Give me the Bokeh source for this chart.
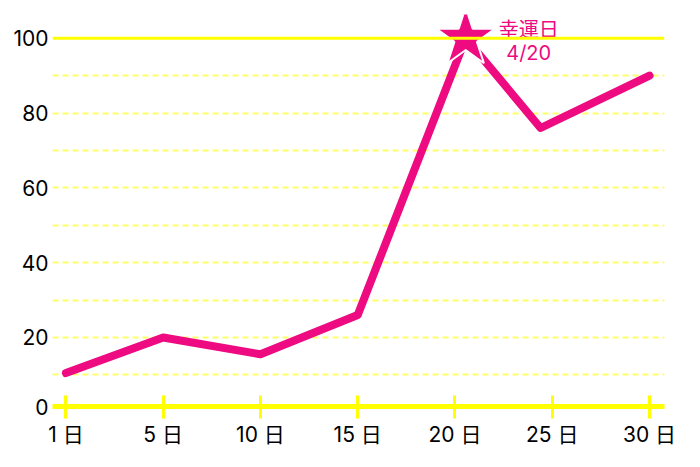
from bokeh.plotting import figure
from bokeh.models import Range1d, FixedTicker, Span, ColumnDataSource
from bokeh.core.properties import value
from bokeh.embed import file_html
from bokeh.resources import INLINE

# ---- data ----
categories = ["1 日", "5 日", "10 日", "15 日", "20 日", "25 日", "30 日"]
y_tick_values = [0, 20, 40, 60, 80, 100]
y_tick_labels = ["0", "20", "40", "60", "80", "100"]
grid_values = [10, 20, 30, 40, 50, 60, 70, 80, 90]
top_line_value = 100

# x is measured in category slots (0 = "1 日", 6 = "30 日")
line_x = [0, 1, 2, 3, 4.11, 4.88, 6.0]
line_y = [10.5, 20, 15.5, 26, 100, 76, 90]

lucky_x = [4.11]
lucky_y = [100]
lucky_text = ["幸運日", "4/20"]

# ---- style ----
PINK = "#ee0a80"
YELLOW = "#ffff00"
GRID_YELLOW = "#ffff66"
FONT = "Inter, Noto Sans CJK JP"

y_start, y_end = 1.55, 106.34

p = figure(width=684, height=451, output_backend="svg", toolbar_location=None,
           x_range=Range1d(-0.138, 6.154), y_range=Range1d(y_start, y_end),
           min_border_left=52, min_border_right=20, min_border_top=14,
           min_border_bottom=45)
p.outline_line_color = None
p.background_fill_color = "white"
p.border_fill_color = "white"

# x axis
xa = p.xaxis[0]
xa.ticker = FixedTicker(ticks=list(range(len(categories))))
xa.major_label_overrides = {i: c for i, c in enumerate(categories)}
xa.axis_line_color = YELLOW
xa.axis_line_width = 5
xa.major_tick_line_color = YELLOW
xa.major_tick_line_width = 3
xa.major_tick_in = 11
xa.major_tick_out = 12
xa.minor_tick_line_color = None
xa.major_label_text_font = FONT
xa.major_label_text_font_size = "21px"
xa.major_label_text_line_height = 1.0
xa.major_label_text_baseline = "alphabetic"
xa.major_label_text_color = "black"
xa.major_label_standoff = 3

# y axis
ya = p.yaxis[0]
ticks = [y_start if v == 0 else v for v in y_tick_values]
ya.ticker = FixedTicker(ticks=ticks)
ya.major_label_overrides = {t: lab for t, lab in zip(ticks, y_tick_labels)}
ya.axis_line_color = None
ya.major_tick_line_color = None
ya.major_tick_in = 0
ya.major_tick_out = 0
ya.minor_tick_line_color = None
ya.minor_tick_out = 0
ya.major_label_text_font = FONT
ya.major_label_text_font_size = "21px"
ya.major_label_text_color = "black"
ya.major_label_standoff = 4

# grid
p.xgrid.visible = False
p.ygrid.ticker = FixedTicker(ticks=grid_values)
p.ygrid.grid_line_color = GRID_YELLOW
p.ygrid.grid_line_width = 2
p.ygrid.grid_line_dash = "6 4"

p.add_layout(Span(location=top_line_value, dimension="width",
                  line_color=YELLOW, line_width=3))

# series
p.line(line_x, line_y, line_color=PINK, line_width=8,
       line_cap="round", line_join="round")

p.scatter(lucky_x, lucky_y, marker="star", size=62,
          fill_color=PINK, line_color="white", line_width=2)

src = ColumnDataSource(dict(x=lucky_x * 2, y=lucky_y * 2, t=lucky_text,
                            yo=[-8, 15]))
p.text(x="x", y="y", text="t", source=src, x_offset=63, y_offset="yo",
       text_align="center", text_baseline="middle",
       text_font=value(FONT), text_font_size="20px", text_color=PINK)

open("out.html", "w").write(file_html(p, INLINE))
